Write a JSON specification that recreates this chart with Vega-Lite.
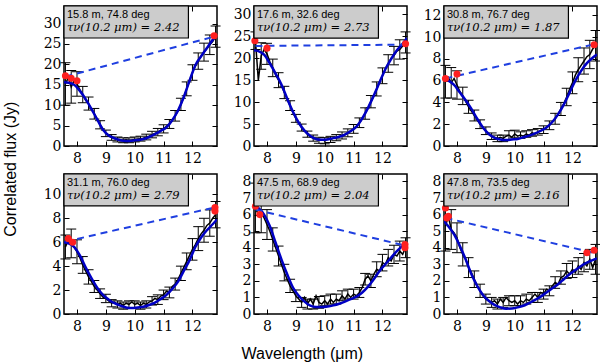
{
"$schema":"https://vega.github.io/schema/vega-lite/v6.json",
"padding":{"left":3,"top":4,"right":4,"bottom":0},
"title":{"text":"Wavelength (μm)","orient":"bottom","anchor":"middle","offset":12},
"vconcat":[{
"title":{"text":"Correlated flux (Jy)","orient":"left","anchor":"middle","offset":23},
"columns":3,
"spacing":{"row":28,"column":37},
"bounds":"flush",
"concat":[
{"width":153,"height":140,"layer":[
 {"encoding":{"x":{"field":"w","type":"quantitative","scale":{"domain":[7.55,12.85],"nice":false,"zero":false},"axis":{"values":[8,9,10,11,12],"title":null}},
  "y":{"field":"f","type":"quantitative","scale":{"domain":[0,34.3],"nice":false,"zero":false},"axis":{"values":[0,5,10,15,20,25,30],"title":null}}},
  "layer":[
   {"data":{"name":"obs"},"transform":[{"filter":"datum.p==1 && datum.e>0"}],"mark":{"type":"errorbar","ticks":{"color":"black","opacity":1},"rule":{"color":"black","opacity":1},"size":10,"thickness":1,"color":"black","opacity":1},"encoding":{"yError":{"field":"e"}}},
   {"data":{"name":"obs"},"transform":[{"filter":"datum.p==1"}],"mark":{"type":"line","color":"black","strokeWidth":1.5,"clip":true},"encoding":{}},
   {"data":{"name":"mod"},"transform":[{"filter":"datum.p==1"}],"mark":{"type":"line","color":"#0000c4","strokeWidth":2.5,"interpolate":"monotone","clip":true},"encoding":{}},
   {"data":{"name":"cont"},"transform":[{"filter":"datum.p==1"}],"mark":{"type":"line","color":"#1f3fe0","strokeWidth":2,"strokeDash":[7,5],"clip":true},"encoding":{}},
   {"data":{"name":"red"},"transform":[{"filter":"datum.p==1"}],"mark":{"type":"circle","color":"#ff2020","size":50,"opacity":1}}
  ]},
 {"data":{"name":"lab"},"transform":[{"filter":"datum.p==1"}],
  "encoding":{"x":{"datum":7.55,"type":"quantitative","scale":{"domain":[7.55,12.85],"nice":false,"zero":false},"axis":{"orient":"top","values":[8,9,10,11,12],"labels":false,"title":null}},
   "y":{"datum":34.3,"type":"quantitative","scale":{"domain":[0,34.3],"nice":false,"zero":false},"axis":{"orient":"right","values":[0,5,10,15,20,25,30],"labels":false,"title":null}}},
  "layer":[
   {"mark":{"type":"rect","fill":"#cccccc","stroke":"black","strokeWidth":1.2},"encoding":{"x2":{"datum":11.86},"y2":{"datum":26.46}}},
   {"mark":{"type":"text","align":"left","baseline":"top","dx":3,"dy":3,"font":"Liberation Sans","fontSize":11},"encoding":{"text":{"field":"a"}}},
   {"mark":{"type":"text","align":"left","baseline":"top","dx":3,"dy":16,"font":"DejaVu Serif","fontStyle":"italic","fontSize":11.5},"encoding":{"text":{"field":"b"}}}
  ]}
 ],"resolve":{"axis":{"x":"independent","y":"independent"}}},
{"width":153,"height":140,"layer":[
 {"encoding":{"x":{"field":"w","type":"quantitative","scale":{"domain":[7.55,12.85],"nice":false,"zero":false},"axis":{"values":[8,9,10,11,12],"title":null}},
  "y":{"field":"f","type":"quantitative","scale":{"domain":[0,31.9],"nice":false,"zero":false},"axis":{"values":[0,5,10,15,20,25,30],"title":null}}},
  "layer":[
   {"data":{"name":"obs"},"transform":[{"filter":"datum.p==2 && datum.e>0"}],"mark":{"type":"errorbar","ticks":{"color":"black","opacity":1},"rule":{"color":"black","opacity":1},"size":10,"thickness":1,"color":"black","opacity":1},"encoding":{"yError":{"field":"e"}}},
   {"data":{"name":"obs"},"transform":[{"filter":"datum.p==2"}],"mark":{"type":"line","color":"black","strokeWidth":1.5,"clip":true},"encoding":{}},
   {"data":{"name":"mod"},"transform":[{"filter":"datum.p==2"}],"mark":{"type":"line","color":"#0000c4","strokeWidth":2.5,"interpolate":"monotone","clip":true},"encoding":{}},
   {"data":{"name":"cont"},"transform":[{"filter":"datum.p==2"}],"mark":{"type":"line","color":"#1f3fe0","strokeWidth":2,"strokeDash":[7,5],"clip":true},"encoding":{}},
   {"data":{"name":"red"},"transform":[{"filter":"datum.p==2"}],"mark":{"type":"circle","color":"#ff2020","size":50,"opacity":1}}
  ]},
 {"data":{"name":"lab"},"transform":[{"filter":"datum.p==2"}],
  "encoding":{"x":{"datum":7.55,"type":"quantitative","scale":{"domain":[7.55,12.85],"nice":false,"zero":false},"axis":{"orient":"top","values":[8,9,10,11,12],"labels":false,"title":null}},
   "y":{"datum":31.9,"type":"quantitative","scale":{"domain":[0,31.9],"nice":false,"zero":false},"axis":{"orient":"right","values":[0,5,10,15,20,25,30],"labels":false,"title":null}}},
  "layer":[
   {"mark":{"type":"rect","fill":"#cccccc","stroke":"black","strokeWidth":1.2},"encoding":{"x2":{"datum":11.86},"y2":{"datum":24.6}}},
   {"mark":{"type":"text","align":"left","baseline":"top","dx":3,"dy":3,"font":"Liberation Sans","fontSize":11},"encoding":{"text":{"field":"a"}}},
   {"mark":{"type":"text","align":"left","baseline":"top","dx":3,"dy":16,"font":"DejaVu Serif","fontStyle":"italic","fontSize":11.5},"encoding":{"text":{"field":"b"}}}
  ]}
 ],"resolve":{"axis":{"x":"independent","y":"independent"}}},
{"width":153,"height":140,"layer":[
 {"encoding":{"x":{"field":"w","type":"quantitative","scale":{"domain":[7.55,12.85],"nice":false,"zero":false},"axis":{"values":[8,9,10,11,12],"title":null}},
  "y":{"field":"f","type":"quantitative","scale":{"domain":[0,12.85],"nice":false,"zero":false},"axis":{"values":[0,2,4,6,8,10,12],"title":null}}},
  "layer":[
   {"data":{"name":"obs"},"transform":[{"filter":"datum.p==3 && datum.e>0"}],"mark":{"type":"errorbar","ticks":{"color":"black","opacity":1},"rule":{"color":"black","opacity":1},"size":10,"thickness":1,"color":"black","opacity":1},"encoding":{"yError":{"field":"e"}}},
   {"data":{"name":"obs"},"transform":[{"filter":"datum.p==3"}],"mark":{"type":"line","color":"black","strokeWidth":1.5,"clip":true},"encoding":{}},
   {"data":{"name":"mod"},"transform":[{"filter":"datum.p==3"}],"mark":{"type":"line","color":"#0000c4","strokeWidth":2.5,"interpolate":"monotone","clip":true},"encoding":{}},
   {"data":{"name":"cont"},"transform":[{"filter":"datum.p==3"}],"mark":{"type":"line","color":"#1f3fe0","strokeWidth":2,"strokeDash":[7,5],"clip":true},"encoding":{}},
   {"data":{"name":"red"},"transform":[{"filter":"datum.p==3"}],"mark":{"type":"circle","color":"#ff2020","size":50,"opacity":1}}
  ]},
 {"data":{"name":"lab"},"transform":[{"filter":"datum.p==3"}],
  "encoding":{"x":{"datum":7.55,"type":"quantitative","scale":{"domain":[7.55,12.85],"nice":false,"zero":false},"axis":{"orient":"top","values":[8,9,10,11,12],"labels":false,"title":null}},
   "y":{"datum":12.85,"type":"quantitative","scale":{"domain":[0,12.85],"nice":false,"zero":false},"axis":{"orient":"right","values":[0,2,4,6,8,10,12],"labels":false,"title":null}}},
  "layer":[
   {"mark":{"type":"rect","fill":"#cccccc","stroke":"black","strokeWidth":1.2},"encoding":{"x2":{"datum":11.86},"y2":{"datum":9.91}}},
   {"mark":{"type":"text","align":"left","baseline":"top","dx":3,"dy":3,"font":"Liberation Sans","fontSize":11},"encoding":{"text":{"field":"a"}}},
   {"mark":{"type":"text","align":"left","baseline":"top","dx":3,"dy":16,"font":"DejaVu Serif","fontStyle":"italic","fontSize":11.5},"encoding":{"text":{"field":"b"}}}
  ]}
 ],"resolve":{"axis":{"x":"independent","y":"independent"}}},
{"width":153,"height":140,"layer":[
 {"encoding":{"x":{"field":"w","type":"quantitative","scale":{"domain":[7.55,12.85],"nice":false,"zero":false},"axis":{"values":[8,9,10,11,12],"title":null}},
  "y":{"field":"f","type":"quantitative","scale":{"domain":[0,11.7],"nice":false,"zero":false},"axis":{"values":[0,2,4,6,8,10],"title":null}}},
  "layer":[
   {"data":{"name":"obs"},"transform":[{"filter":"datum.p==4 && datum.e>0"}],"mark":{"type":"errorbar","ticks":{"color":"black","opacity":1},"rule":{"color":"black","opacity":1},"size":10,"thickness":1,"color":"black","opacity":1},"encoding":{"yError":{"field":"e"}}},
   {"data":{"name":"obs"},"transform":[{"filter":"datum.p==4"}],"mark":{"type":"line","color":"black","strokeWidth":1.5,"clip":true},"encoding":{}},
   {"data":{"name":"mod"},"transform":[{"filter":"datum.p==4"}],"mark":{"type":"line","color":"#0000c4","strokeWidth":2.5,"interpolate":"monotone","clip":true},"encoding":{}},
   {"data":{"name":"cont"},"transform":[{"filter":"datum.p==4"}],"mark":{"type":"line","color":"#1f3fe0","strokeWidth":2,"strokeDash":[7,5],"clip":true},"encoding":{}},
   {"data":{"name":"red"},"transform":[{"filter":"datum.p==4"}],"mark":{"type":"circle","color":"#ff2020","size":50,"opacity":1}}
  ]},
 {"data":{"name":"lab"},"transform":[{"filter":"datum.p==4"}],
  "encoding":{"x":{"datum":7.55,"type":"quantitative","scale":{"domain":[7.55,12.85],"nice":false,"zero":false},"axis":{"orient":"top","values":[8,9,10,11,12],"labels":false,"title":null}},
   "y":{"datum":11.7,"type":"quantitative","scale":{"domain":[0,11.7],"nice":false,"zero":false},"axis":{"orient":"right","values":[0,2,4,6,8,10],"labels":false,"title":null}}},
  "layer":[
   {"mark":{"type":"rect","fill":"#cccccc","stroke":"black","strokeWidth":1.2},"encoding":{"x2":{"datum":11.86},"y2":{"datum":9.03}}},
   {"mark":{"type":"text","align":"left","baseline":"top","dx":3,"dy":3,"font":"Liberation Sans","fontSize":11},"encoding":{"text":{"field":"a"}}},
   {"mark":{"type":"text","align":"left","baseline":"top","dx":3,"dy":16,"font":"DejaVu Serif","fontStyle":"italic","fontSize":11.5},"encoding":{"text":{"field":"b"}}}
  ]}
 ],"resolve":{"axis":{"x":"independent","y":"independent"}}},
{"width":153,"height":140,"layer":[
 {"encoding":{"x":{"field":"w","type":"quantitative","scale":{"domain":[7.55,12.85],"nice":false,"zero":false},"axis":{"values":[8,9,10,11,12],"title":null}},
  "y":{"field":"f","type":"quantitative","scale":{"domain":[0,8.45],"nice":false,"zero":false},"axis":{"values":[0,1,2,3,4,5,6,7,8],"title":null}}},
  "layer":[
   {"data":{"name":"obs"},"transform":[{"filter":"datum.p==5 && datum.e>0"}],"mark":{"type":"errorbar","ticks":{"color":"black","opacity":1},"rule":{"color":"black","opacity":1},"size":10,"thickness":1,"color":"black","opacity":1},"encoding":{"yError":{"field":"e"}}},
   {"data":{"name":"obs"},"transform":[{"filter":"datum.p==5"}],"mark":{"type":"line","color":"black","strokeWidth":1.5,"clip":true},"encoding":{}},
   {"data":{"name":"mod"},"transform":[{"filter":"datum.p==5"}],"mark":{"type":"line","color":"#0000c4","strokeWidth":2.5,"interpolate":"monotone","clip":true},"encoding":{}},
   {"data":{"name":"cont"},"transform":[{"filter":"datum.p==5"}],"mark":{"type":"line","color":"#1f3fe0","strokeWidth":2,"strokeDash":[7,5],"clip":true},"encoding":{}},
   {"data":{"name":"red"},"transform":[{"filter":"datum.p==5"}],"mark":{"type":"circle","color":"#ff2020","size":50,"opacity":1}}
  ]},
 {"data":{"name":"lab"},"transform":[{"filter":"datum.p==5"}],
  "encoding":{"x":{"datum":7.55,"type":"quantitative","scale":{"domain":[7.55,12.85],"nice":false,"zero":false},"axis":{"orient":"top","values":[8,9,10,11,12],"labels":false,"title":null}},
   "y":{"datum":8.45,"type":"quantitative","scale":{"domain":[0,8.45],"nice":false,"zero":false},"axis":{"orient":"right","values":[0,1,2,3,4,5,6,7,8],"labels":false,"title":null}}},
  "layer":[
   {"mark":{"type":"rect","fill":"#cccccc","stroke":"black","strokeWidth":1.2},"encoding":{"x2":{"datum":11.86},"y2":{"datum":6.52}}},
   {"mark":{"type":"text","align":"left","baseline":"top","dx":3,"dy":3,"font":"Liberation Sans","fontSize":11},"encoding":{"text":{"field":"a"}}},
   {"mark":{"type":"text","align":"left","baseline":"top","dx":3,"dy":16,"font":"DejaVu Serif","fontStyle":"italic","fontSize":11.5},"encoding":{"text":{"field":"b"}}}
  ]}
 ],"resolve":{"axis":{"x":"independent","y":"independent"}}},
{"width":153,"height":140,"layer":[
 {"encoding":{"x":{"field":"w","type":"quantitative","scale":{"domain":[7.55,12.85],"nice":false,"zero":false},"axis":{"values":[8,9,10,11,12],"title":null}},
  "y":{"field":"f","type":"quantitative","scale":{"domain":[0,8.45],"nice":false,"zero":false},"axis":{"values":[0,1,2,3,4,5,6,7,8],"title":null}}},
  "layer":[
   {"data":{"name":"obs"},"transform":[{"filter":"datum.p==6 && datum.e>0"}],"mark":{"type":"errorbar","ticks":{"color":"black","opacity":1},"rule":{"color":"black","opacity":1},"size":10,"thickness":1,"color":"black","opacity":1},"encoding":{"yError":{"field":"e"}}},
   {"data":{"name":"obs"},"transform":[{"filter":"datum.p==6"}],"mark":{"type":"line","color":"black","strokeWidth":1.5,"clip":true},"encoding":{}},
   {"data":{"name":"mod"},"transform":[{"filter":"datum.p==6"}],"mark":{"type":"line","color":"#0000c4","strokeWidth":2.5,"interpolate":"monotone","clip":true},"encoding":{}},
   {"data":{"name":"cont"},"transform":[{"filter":"datum.p==6"}],"mark":{"type":"line","color":"#1f3fe0","strokeWidth":2,"strokeDash":[7,5],"clip":true},"encoding":{}},
   {"data":{"name":"red"},"transform":[{"filter":"datum.p==6"}],"mark":{"type":"circle","color":"#ff2020","size":50,"opacity":1}}
  ]},
 {"data":{"name":"lab"},"transform":[{"filter":"datum.p==6"}],
  "encoding":{"x":{"datum":7.55,"type":"quantitative","scale":{"domain":[7.55,12.85],"nice":false,"zero":false},"axis":{"orient":"top","values":[8,9,10,11,12],"labels":false,"title":null}},
   "y":{"datum":8.45,"type":"quantitative","scale":{"domain":[0,8.45],"nice":false,"zero":false},"axis":{"orient":"right","values":[0,1,2,3,4,5,6,7,8],"labels":false,"title":null}}},
  "layer":[
   {"mark":{"type":"rect","fill":"#cccccc","stroke":"black","strokeWidth":1.2},"encoding":{"x2":{"datum":11.86},"y2":{"datum":6.52}}},
   {"mark":{"type":"text","align":"left","baseline":"top","dx":3,"dy":3,"font":"Liberation Sans","fontSize":11},"encoding":{"text":{"field":"a"}}},
   {"mark":{"type":"text","align":"left","baseline":"top","dx":3,"dy":16,"font":"DejaVu Serif","fontStyle":"italic","fontSize":11.5},"encoding":{"text":{"field":"b"}}}
  ]}
 ],"resolve":{"axis":{"x":"independent","y":"independent"}}}
]}],
"datasets":{
"lab":[
{"p":1,"a":"15.8 m, 74.8 deg","b":"τν(10.2 μm) = 2.42"},
{"p":2,"a":"17.6 m, 32.6 deg","b":"τν(10.2 μm) = 2.73"},
{"p":3,"a":"30.8 m, 76.7 deg","b":"τν(10.2 μm) = 1.87"},
{"p":4,"a":"31.1 m, 76.0 deg","b":"τν(10.2 μm) = 2.79"},
{"p":5,"a":"47.5 m, 68.9 deg","b":"τν(10.2 μm) = 2.04"},
{"p":6,"a":"47.8 m, 73.5 deg","b":"τν(10.2 μm) = 2.16"}
],
"cont":[
{"p":1,"w":7.6,"f":17.0},{"p":1,"w":12.85,"f":27.0},
{"p":2,"w":7.6,"f":22.8},{"p":2,"w":12.85,"f":23.1},
{"p":3,"w":7.6,"f":6.2},{"p":3,"w":12.85,"f":9.4},
{"p":4,"w":7.6,"f":6.05},{"p":4,"w":12.85,"f":8.95},
{"p":5,"w":7.6,"f":6.3},{"p":5,"w":12.85,"f":4.1},
{"p":6,"w":7.6,"f":5.8},{"p":6,"w":12.85,"f":3.65}
],
"red":[
{"p":1,"w":7.6,"f":17.2},{"p":1,"w":7.8,"f":16.6},{"p":1,"w":8.0,"f":16.0},{"p":1,"w":12.75,"f":27.0},
{"p":2,"w":7.58,"f":24.0},{"p":2,"w":8.0,"f":22.3},{"p":2,"w":12.8,"f":23.3},
{"p":3,"w":7.6,"f":6.2},{"p":3,"w":8.0,"f":6.6},{"p":3,"w":12.75,"f":9.3},
{"p":4,"w":7.7,"f":6.3},{"p":4,"w":7.85,"f":6.0},{"p":4,"w":12.78,"f":8.6},{"p":4,"w":12.78,"f":8.9},
{"p":5,"w":7.6,"f":6.5},{"p":5,"w":7.75,"f":6.0},{"p":5,"w":12.78,"f":4.2},{"p":5,"w":12.78,"f":4.0},
{"p":6,"w":7.6,"f":6.4},{"p":6,"w":7.65,"f":5.8},{"p":6,"w":7.7,"f":5.9},{"p":6,"w":12.5,"f":3.7},{"p":6,"w":12.75,"f":3.85}
],
"mod":[
{"p":1,"w":7.55,"f":15.6},{"p":1,"w":7.7,"f":15.5},{"p":1,"w":7.9,"f":15.0},{"p":1,"w":8.1,"f":13.5},{"p":1,"w":8.3,"f":11.5},{"p":1,"w":8.5,"f":9.1},{"p":1,"w":8.7,"f":6.5},{"p":1,"w":8.9,"f":4.0},{"p":1,"w":9.1,"f":2.6},{"p":1,"w":9.3,"f":1.9},{"p":1,"w":9.5,"f":1.4},{"p":1,"w":9.7,"f":1.25},{"p":1,"w":9.9,"f":1.3},{"p":1,"w":10.1,"f":1.45},{"p":1,"w":10.3,"f":1.7},{"p":1,"w":10.5,"f":2.2},{"p":1,"w":10.7,"f":2.9},{"p":1,"w":10.9,"f":3.7},{"p":1,"w":11.1,"f":4.6},{"p":1,"w":11.3,"f":6.3},{"p":1,"w":11.5,"f":8.7},{"p":1,"w":11.7,"f":12.0},{"p":1,"w":11.9,"f":16.0},{"p":1,"w":12.1,"f":19.8},{"p":1,"w":12.3,"f":22.0},{"p":1,"w":12.5,"f":24.0},{"p":1,"w":12.7,"f":26.0},{"p":1,"w":12.85,"f":27.2},
{"p":2,"w":7.55,"f":21.8},{"p":2,"w":7.7,"f":21.6},{"p":2,"w":7.9,"f":20.8},{"p":2,"w":8.1,"f":18.8},{"p":2,"w":8.3,"f":16.5},{"p":2,"w":8.5,"f":14.0},{"p":2,"w":8.7,"f":10.8},{"p":2,"w":8.9,"f":7.8},{"p":2,"w":9.1,"f":5.3},{"p":2,"w":9.3,"f":3.5},{"p":2,"w":9.5,"f":2.3},{"p":2,"w":9.7,"f":1.6},{"p":2,"w":9.9,"f":1.4},{"p":2,"w":10.1,"f":1.5},{"p":2,"w":10.3,"f":1.8},{"p":2,"w":10.5,"f":2.1},{"p":2,"w":10.7,"f":2.6},{"p":2,"w":10.9,"f":3.4},{"p":2,"w":11.1,"f":4.4},{"p":2,"w":11.3,"f":6.3},{"p":2,"w":11.5,"f":8.7},{"p":2,"w":11.7,"f":11.5},{"p":2,"w":11.9,"f":14.5},{"p":2,"w":12.1,"f":17.5},{"p":2,"w":12.3,"f":19.8},{"p":2,"w":12.5,"f":21.8},{"p":2,"w":12.7,"f":23.3},{"p":2,"w":12.85,"f":24.6},
{"p":3,"w":7.55,"f":6.1},{"p":3,"w":7.7,"f":6.0},{"p":3,"w":7.9,"f":5.6},{"p":3,"w":8.1,"f":4.9},{"p":3,"w":8.3,"f":4.2},{"p":3,"w":8.5,"f":3.4},{"p":3,"w":8.7,"f":2.5},{"p":3,"w":8.9,"f":1.7},{"p":3,"w":9.1,"f":1.1},{"p":3,"w":9.3,"f":0.75},{"p":3,"w":9.5,"f":0.6},{"p":3,"w":9.7,"f":0.55},{"p":3,"w":9.9,"f":0.6},{"p":3,"w":10.1,"f":0.65},{"p":3,"w":10.3,"f":0.8},{"p":3,"w":10.5,"f":0.95},{"p":3,"w":10.7,"f":1.15},{"p":3,"w":10.9,"f":1.4},{"p":3,"w":11.1,"f":1.7},{"p":3,"w":11.3,"f":2.2},{"p":3,"w":11.5,"f":2.9},{"p":3,"w":11.7,"f":3.8},{"p":3,"w":11.9,"f":4.9},{"p":3,"w":12.1,"f":6.0},{"p":3,"w":12.3,"f":6.9},{"p":3,"w":12.5,"f":7.6},{"p":3,"w":12.7,"f":8.1},{"p":3,"w":12.85,"f":8.4},
{"p":4,"w":7.55,"f":6.0},{"p":4,"w":7.7,"f":5.9},{"p":4,"w":7.9,"f":5.6},{"p":4,"w":8.1,"f":4.9},{"p":4,"w":8.3,"f":3.9},{"p":4,"w":8.5,"f":3.0},{"p":4,"w":8.7,"f":2.2},{"p":4,"w":8.9,"f":1.6},{"p":4,"w":9.1,"f":1.2},{"p":4,"w":9.3,"f":0.9},{"p":4,"w":9.5,"f":0.7},{"p":4,"w":9.7,"f":0.55},{"p":4,"w":9.9,"f":0.5},{"p":4,"w":10.1,"f":0.55},{"p":4,"w":10.3,"f":0.6},{"p":4,"w":10.5,"f":0.75},{"p":4,"w":10.7,"f":0.95},{"p":4,"w":10.9,"f":1.25},{"p":4,"w":11.1,"f":1.6},{"p":4,"w":11.3,"f":2.1},{"p":4,"w":11.5,"f":2.7},{"p":4,"w":11.7,"f":3.6},{"p":4,"w":11.9,"f":4.5},{"p":4,"w":12.1,"f":5.6},{"p":4,"w":12.3,"f":6.4},{"p":4,"w":12.5,"f":7.0},{"p":4,"w":12.7,"f":7.5},{"p":4,"w":12.85,"f":7.9},
{"p":5,"w":7.55,"f":6.6},{"p":5,"w":7.7,"f":6.4},{"p":5,"w":7.9,"f":6.0},{"p":5,"w":8.1,"f":5.3},{"p":5,"w":8.3,"f":4.3},{"p":5,"w":8.5,"f":3.3},{"p":5,"w":8.7,"f":2.4},{"p":5,"w":8.9,"f":1.6},{"p":5,"w":9.1,"f":1.1},{"p":5,"w":9.3,"f":0.75},{"p":5,"w":9.5,"f":0.5},{"p":5,"w":9.7,"f":0.42},{"p":5,"w":9.9,"f":0.42},{"p":5,"w":10.1,"f":0.45},{"p":5,"w":10.3,"f":0.52},{"p":5,"w":10.5,"f":0.62},{"p":5,"w":10.7,"f":0.75},{"p":5,"w":10.9,"f":0.9},{"p":5,"w":11.1,"f":1.05},{"p":5,"w":11.3,"f":1.3},{"p":5,"w":11.5,"f":1.65},{"p":5,"w":11.7,"f":2.1},{"p":5,"w":11.9,"f":2.6},{"p":5,"w":12.1,"f":3.0},{"p":5,"w":12.3,"f":3.4},{"p":5,"w":12.5,"f":3.8},{"p":5,"w":12.7,"f":4.1},{"p":5,"w":12.85,"f":4.25},
{"p":6,"w":7.55,"f":5.6},{"p":6,"w":7.7,"f":5.3},{"p":6,"w":7.9,"f":4.8},{"p":6,"w":8.1,"f":4.1},{"p":6,"w":8.3,"f":3.3},{"p":6,"w":8.5,"f":2.4},{"p":6,"w":8.7,"f":1.7},{"p":6,"w":8.9,"f":1.15},{"p":6,"w":9.1,"f":0.8},{"p":6,"w":9.3,"f":0.55},{"p":6,"w":9.5,"f":0.4},{"p":6,"w":9.7,"f":0.32},{"p":6,"w":9.9,"f":0.33},{"p":6,"w":10.1,"f":0.4},{"p":6,"w":10.3,"f":0.5},{"p":6,"w":10.5,"f":0.65},{"p":6,"w":10.7,"f":0.85},{"p":6,"w":10.9,"f":1.05},{"p":6,"w":11.1,"f":1.3},{"p":6,"w":11.3,"f":1.55},{"p":6,"w":11.5,"f":1.8},{"p":6,"w":11.7,"f":2.1},{"p":6,"w":11.9,"f":2.4},{"p":6,"w":12.1,"f":2.65},{"p":6,"w":12.3,"f":2.9},{"p":6,"w":12.5,"f":3.1},{"p":6,"w":12.7,"f":3.25},{"p":6,"w":12.85,"f":3.35}
],
"obs":[
{"p":1,"w":7.6,"f":15.2,"e":5.2},{"p":1,"w":7.7,"f":16.8},{"p":1,"w":7.8,"f":14.5,"e":4.0},{"p":1,"w":7.9,"f":16.0},{"p":1,"w":8.0,"f":15.2,"e":3.0},{"p":1,"w":8.1,"f":13.8},{"p":1,"w":8.2,"f":12.6,"e":2.0},{"p":1,"w":8.3,"f":11.2},{"p":1,"w":8.4,"f":10.4,"e":1.6},{"p":1,"w":8.5,"f":9.0},{"p":1,"w":8.6,"f":7.9,"e":1.3},{"p":1,"w":8.7,"f":6.6},{"p":1,"w":8.8,"f":5.2,"e":1.0},{"p":1,"w":8.9,"f":4.1},{"p":1,"w":9.0,"f":3.1,"e":0.8},{"p":1,"w":9.1,"f":2.5},{"p":1,"w":9.2,"f":2.1,"e":0.7},{"p":1,"w":9.3,"f":1.8},{"p":1,"w":9.4,"f":1.6,"e":0.6},{"p":1,"w":9.5,"f":1.5},{"p":1,"w":9.6,"f":1.4,"e":0.6},{"p":1,"w":9.7,"f":1.5},{"p":1,"w":9.8,"f":1.4,"e":0.6},{"p":1,"w":9.9,"f":1.5},{"p":1,"w":10.0,"f":1.6,"e":0.6},{"p":1,"w":10.1,"f":1.7},{"p":1,"w":10.2,"f":1.8,"e":0.6},{"p":1,"w":10.3,"f":1.9},{"p":1,"w":10.4,"f":2.2,"e":0.7},{"p":1,"w":10.5,"f":2.4},{"p":1,"w":10.6,"f":2.8,"e":0.8},{"p":1,"w":10.7,"f":3.1},{"p":1,"w":10.8,"f":3.4,"e":0.9},{"p":1,"w":10.9,"f":3.8},{"p":1,"w":11.0,"f":4.2,"e":1.0},{"p":1,"w":11.1,"f":4.8},{"p":1,"w":11.2,"f":5.4,"e":1.1},{"p":1,"w":11.3,"f":6.3},{"p":1,"w":11.4,"f":7.4,"e":1.3},{"p":1,"w":11.5,"f":8.6},{"p":1,"w":11.6,"f":10.2,"e":1.5},{"p":1,"w":11.7,"f":12.0},{"p":1,"w":11.8,"f":14.0,"e":1.7},{"p":1,"w":11.9,"f":16.0},{"p":1,"w":12.0,"f":18.0,"e":1.9},{"p":1,"w":12.1,"f":19.6},{"p":1,"w":12.2,"f":20.8,"e":2.0},{"p":1,"w":12.3,"f":22.0},{"p":1,"w":12.4,"f":23.0,"e":2.2},{"p":1,"w":12.5,"f":23.9},{"p":1,"w":12.6,"f":24.8,"e":2.4},{"p":1,"w":12.7,"f":25.6},{"p":1,"w":12.8,"f":26.8,"e":2.6},
{"p":2,"w":7.6,"f":24.0,"e":2.0},{"p":2,"w":7.7,"f":15.0},{"p":2,"w":7.8,"f":20.5,"e":3.0},{"p":2,"w":7.9,"f":22.0},{"p":2,"w":8.0,"f":21.0,"e":2.4},{"p":2,"w":8.1,"f":19.2},{"p":2,"w":8.2,"f":17.8,"e":2.0},{"p":2,"w":8.3,"f":16.2},{"p":2,"w":8.4,"f":15.0,"e":1.7},{"p":2,"w":8.5,"f":13.8},{"p":2,"w":8.6,"f":12.2,"e":1.4},{"p":2,"w":8.7,"f":10.6},{"p":2,"w":8.8,"f":9.2,"e":1.1},{"p":2,"w":8.9,"f":7.6},{"p":2,"w":9.0,"f":6.3,"e":0.9},{"p":2,"w":9.1,"f":5.2},{"p":2,"w":9.2,"f":4.2,"e":0.8},{"p":2,"w":9.3,"f":3.4},{"p":2,"w":9.4,"f":2.7,"e":0.7},{"p":2,"w":9.5,"f":2.1},{"p":2,"w":9.6,"f":1.8,"e":0.7},{"p":2,"w":9.7,"f":1.5},{"p":2,"w":9.8,"f":1.3,"e":0.7},{"p":2,"w":9.9,"f":1.4},{"p":2,"w":10.0,"f":1.2,"e":0.7},{"p":2,"w":10.1,"f":1.6},{"p":2,"w":10.2,"f":1.5,"e":0.7},{"p":2,"w":10.3,"f":1.8},{"p":2,"w":10.4,"f":1.9,"e":0.7},{"p":2,"w":10.5,"f":2.1},{"p":2,"w":10.6,"f":2.4,"e":0.8},{"p":2,"w":10.7,"f":2.6},{"p":2,"w":10.8,"f":3.0,"e":0.9},{"p":2,"w":10.9,"f":3.4},{"p":2,"w":11.0,"f":3.9,"e":1.0},{"p":2,"w":11.1,"f":4.5},{"p":2,"w":11.2,"f":5.3,"e":1.1},{"p":2,"w":11.3,"f":6.2},{"p":2,"w":11.4,"f":7.4,"e":1.3},{"p":2,"w":11.5,"f":8.6},{"p":2,"w":11.6,"f":10.1,"e":1.4},{"p":2,"w":11.7,"f":11.4},{"p":2,"w":11.8,"f":13.0,"e":1.6},{"p":2,"w":11.9,"f":14.6},{"p":2,"w":12.0,"f":16.0,"e":1.8},{"p":2,"w":12.1,"f":17.6},{"p":2,"w":12.2,"f":18.8,"e":2.0},{"p":2,"w":12.3,"f":20.0},{"p":2,"w":12.4,"f":20.6,"e":2.1},{"p":2,"w":12.5,"f":21.6},{"p":2,"w":12.6,"f":22.0,"e":2.2},{"p":2,"w":12.7,"f":22.8},{"p":2,"w":12.8,"f":23.6,"e":2.4},
{"p":3,"w":7.6,"f":5.9,"e":1.5},{"p":3,"w":7.7,"f":6.3},{"p":3,"w":7.8,"f":5.8,"e":1.4},{"p":3,"w":7.9,"f":6.2},{"p":3,"w":8.0,"f":5.6,"e":1.3},{"p":3,"w":8.1,"f":5.0},{"p":3,"w":8.2,"f":4.6,"e":0.8},{"p":3,"w":8.3,"f":4.1},{"p":3,"w":8.4,"f":3.6,"e":0.6},{"p":3,"w":8.5,"f":3.2},{"p":3,"w":8.6,"f":2.8,"e":0.5},{"p":3,"w":8.7,"f":2.4},{"p":3,"w":8.8,"f":2.0,"e":0.4},{"p":3,"w":8.9,"f":1.7},{"p":3,"w":9.0,"f":1.4,"e":0.35},{"p":3,"w":9.1,"f":1.1},{"p":3,"w":9.2,"f":0.9,"e":0.3},{"p":3,"w":9.3,"f":0.8},{"p":3,"w":9.4,"f":0.7,"e":0.3},{"p":3,"w":9.5,"f":0.8},{"p":3,"w":9.6,"f":0.7,"e":0.3},{"p":3,"w":9.7,"f":0.9},{"p":3,"w":9.8,"f":1.0,"e":0.4},{"p":3,"w":9.9,"f":0.8},{"p":3,"w":10.0,"f":1.1,"e":0.35},{"p":3,"w":10.1,"f":0.9},{"p":3,"w":10.2,"f":1.0,"e":0.3},{"p":3,"w":10.3,"f":0.9},{"p":3,"w":10.4,"f":1.1,"e":0.3},{"p":3,"w":10.5,"f":1.0},{"p":3,"w":10.6,"f":1.2,"e":0.3},{"p":3,"w":10.7,"f":1.1},{"p":3,"w":10.8,"f":1.3,"e":0.3},{"p":3,"w":10.9,"f":1.4},{"p":3,"w":11.0,"f":1.5,"e":0.35},{"p":3,"w":11.1,"f":1.7},{"p":3,"w":11.2,"f":1.9,"e":0.4},{"p":3,"w":11.3,"f":2.2},{"p":3,"w":11.4,"f":2.5,"e":0.5},{"p":3,"w":11.5,"f":2.9},{"p":3,"w":11.6,"f":3.4,"e":0.6},{"p":3,"w":11.7,"f":3.9},{"p":3,"w":11.8,"f":4.5,"e":0.8},{"p":3,"w":11.9,"f":5.2},{"p":3,"w":12.0,"f":5.8,"e":1.0},{"p":3,"w":12.1,"f":6.5},{"p":3,"w":12.2,"f":7.0,"e":1.1},{"p":3,"w":12.3,"f":7.4},{"p":3,"w":12.4,"f":7.8,"e":1.2},{"p":3,"w":12.5,"f":8.2},{"p":3,"w":12.6,"f":8.4,"e":1.3},{"p":3,"w":12.7,"f":8.9},{"p":3,"w":12.8,"f":9.2,"e":1.4},
{"p":4,"w":7.6,"f":5.6,"e":1.0},{"p":4,"w":7.7,"f":6.2},{"p":4,"w":7.8,"f":5.9,"e":1.2},{"p":4,"w":7.9,"f":5.6},{"p":4,"w":8.0,"f":5.2,"e":1.0},{"p":4,"w":8.1,"f":4.7},{"p":4,"w":8.2,"f":4.1,"e":0.7},{"p":4,"w":8.3,"f":3.6},{"p":4,"w":8.4,"f":3.1,"e":0.6},{"p":4,"w":8.5,"f":2.7},{"p":4,"w":8.6,"f":2.3,"e":0.5},{"p":4,"w":8.7,"f":2.0},{"p":4,"w":8.8,"f":1.7,"e":0.4},{"p":4,"w":8.9,"f":1.4},{"p":4,"w":9.0,"f":1.3,"e":0.35},{"p":4,"w":9.1,"f":1.1},{"p":4,"w":9.2,"f":0.9,"e":0.3},{"p":4,"w":9.3,"f":1.0},{"p":4,"w":9.4,"f":0.8,"e":0.3},{"p":4,"w":9.5,"f":0.9},{"p":4,"w":9.6,"f":0.7,"e":0.3},{"p":4,"w":9.7,"f":0.9},{"p":4,"w":9.8,"f":0.8,"e":0.3},{"p":4,"w":9.9,"f":1.0},{"p":4,"w":10.0,"f":0.8,"e":0.3},{"p":4,"w":10.1,"f":0.9},{"p":4,"w":10.2,"f":0.7,"e":0.3},{"p":4,"w":10.3,"f":0.9},{"p":4,"w":10.4,"f":0.8,"e":0.3},{"p":4,"w":10.5,"f":1.0},{"p":4,"w":10.6,"f":1.1,"e":0.35},{"p":4,"w":10.7,"f":1.3},{"p":4,"w":10.8,"f":1.2,"e":0.4},{"p":4,"w":10.9,"f":1.5},{"p":4,"w":11.0,"f":1.6,"e":0.4},{"p":4,"w":11.1,"f":1.9},{"p":4,"w":11.2,"f":1.8,"e":0.45},{"p":4,"w":11.3,"f":2.3},{"p":4,"w":11.4,"f":2.5,"e":0.5},{"p":4,"w":11.5,"f":2.9},{"p":4,"w":11.6,"f":3.4,"e":0.6},{"p":4,"w":11.7,"f":3.9},{"p":4,"w":11.8,"f":4.4,"e":0.7},{"p":4,"w":11.9,"f":4.9},{"p":4,"w":12.0,"f":5.4,"e":0.9},{"p":4,"w":12.1,"f":5.8},{"p":4,"w":12.2,"f":6.3,"e":1.0},{"p":4,"w":12.3,"f":6.7},{"p":4,"w":12.4,"f":7.0,"e":1.0},{"p":4,"w":12.5,"f":7.4},{"p":4,"w":12.6,"f":7.6,"e":1.1},{"p":4,"w":12.7,"f":8.0},{"p":4,"w":12.8,"f":8.3,"e":1.1},
{"p":5,"w":7.6,"f":6.4,"e":1.5},{"p":5,"w":7.7,"f":6.0},{"p":5,"w":7.8,"f":6.1,"e":1.2},{"p":5,"w":7.9,"f":5.8},{"p":5,"w":8.0,"f":5.4,"e":0.9},{"p":5,"w":8.1,"f":5.0},{"p":5,"w":8.2,"f":4.5,"e":0.7},{"p":5,"w":8.3,"f":4.0},{"p":5,"w":8.4,"f":3.5,"e":0.6},{"p":5,"w":8.5,"f":3.0},{"p":5,"w":8.6,"f":2.5,"e":0.5},{"p":5,"w":8.7,"f":2.1},{"p":5,"w":8.8,"f":1.7,"e":0.4},{"p":5,"w":8.9,"f":1.4},{"p":5,"w":9.0,"f":1.1,"e":0.35},{"p":5,"w":9.1,"f":0.9},{"p":5,"w":9.2,"f":0.7,"e":0.3},{"p":5,"w":9.3,"f":1.0},{"p":5,"w":9.4,"f":0.6,"e":0.3},{"p":5,"w":9.5,"f":0.9},{"p":5,"w":9.6,"f":0.6,"e":0.3},{"p":5,"w":9.7,"f":1.1},{"p":5,"w":9.8,"f":0.7,"e":0.35},{"p":5,"w":9.9,"f":0.6},{"p":5,"w":10.0,"f":0.8,"e":0.3},{"p":5,"w":10.1,"f":0.6},{"p":5,"w":10.2,"f":0.9,"e":0.3},{"p":5,"w":10.3,"f":0.7},{"p":5,"w":10.4,"f":0.9,"e":0.3},{"p":5,"w":10.5,"f":0.8},{"p":5,"w":10.6,"f":1.1,"e":0.3},{"p":5,"w":10.7,"f":0.9},{"p":5,"w":10.8,"f":1.2,"e":0.3},{"p":5,"w":10.9,"f":1.0},{"p":5,"w":11.0,"f":1.2,"e":0.3},{"p":5,"w":11.1,"f":1.1},{"p":5,"w":11.2,"f":1.3,"e":0.3},{"p":5,"w":11.3,"f":1.6},{"p":5,"w":11.4,"f":2.1,"e":0.35},{"p":5,"w":11.5,"f":2.3},{"p":5,"w":11.6,"f":2.0,"e":0.4},{"p":5,"w":11.7,"f":2.4},{"p":5,"w":11.8,"f":2.7,"e":0.45},{"p":5,"w":11.9,"f":2.6},{"p":5,"w":12.0,"f":3.1,"e":0.5},{"p":5,"w":12.1,"f":3.0},{"p":5,"w":12.2,"f":3.4,"e":0.5},{"p":5,"w":12.3,"f":3.2},{"p":5,"w":12.4,"f":3.6,"e":0.55},{"p":5,"w":12.5,"f":3.5},{"p":5,"w":12.6,"f":3.8,"e":0.6},{"p":5,"w":12.7,"f":3.6},{"p":5,"w":12.8,"f":4.0,"e":0.6},
{"p":6,"w":7.6,"f":5.3,"e":1.5},{"p":6,"w":7.7,"f":5.9},{"p":6,"w":7.8,"f":5.1,"e":1.2},{"p":6,"w":7.9,"f":4.9},{"p":6,"w":8.0,"f":4.6,"e":0.9},{"p":6,"w":8.1,"f":4.0},{"p":6,"w":8.2,"f":3.6,"e":0.7},{"p":6,"w":8.3,"f":3.3},{"p":6,"w":8.4,"f":2.8,"e":0.6},{"p":6,"w":8.5,"f":2.5},{"p":6,"w":8.6,"f":2.1,"e":0.5},{"p":6,"w":8.7,"f":1.7},{"p":6,"w":8.8,"f":1.4,"e":0.4},{"p":6,"w":8.9,"f":1.1},{"p":6,"w":9.0,"f":0.9,"e":0.3},{"p":6,"w":9.1,"f":0.8},{"p":6,"w":9.2,"f":0.7,"e":0.3},{"p":6,"w":9.3,"f":0.8},{"p":6,"w":9.4,"f":0.6,"e":0.3},{"p":6,"w":9.5,"f":0.9},{"p":6,"w":9.6,"f":0.7,"e":0.3},{"p":6,"w":9.7,"f":1.0},{"p":6,"w":9.8,"f":0.8,"e":0.3},{"p":6,"w":9.9,"f":0.7},{"p":6,"w":10.0,"f":0.8,"e":0.3},{"p":6,"w":10.1,"f":0.6},{"p":6,"w":10.2,"f":0.8,"e":0.3},{"p":6,"w":10.3,"f":0.7},{"p":6,"w":10.4,"f":0.9,"e":0.3},{"p":6,"w":10.5,"f":0.8},{"p":6,"w":10.6,"f":1.0,"e":0.3},{"p":6,"w":10.7,"f":1.2},{"p":6,"w":10.8,"f":1.0,"e":0.3},{"p":6,"w":10.9,"f":1.3},{"p":6,"w":11.0,"f":1.2,"e":0.3},{"p":6,"w":11.1,"f":1.5},{"p":6,"w":11.2,"f":1.4,"e":0.3},{"p":6,"w":11.3,"f":1.7},{"p":6,"w":11.4,"f":1.9,"e":0.35},{"p":6,"w":11.5,"f":1.8},{"p":6,"w":11.6,"f":2.2,"e":0.4},{"p":6,"w":11.7,"f":2.3},{"p":6,"w":11.8,"f":2.6,"e":0.45},{"p":6,"w":11.9,"f":2.4},{"p":6,"w":12.0,"f":2.7,"e":0.5},{"p":6,"w":12.1,"f":2.5},{"p":6,"w":12.2,"f":2.9,"e":0.5},{"p":6,"w":12.3,"f":2.7},{"p":6,"w":12.4,"f":3.1,"e":0.55},{"p":6,"w":12.5,"f":2.9},{"p":6,"w":12.6,"f":3.3,"e":0.6},{"p":6,"w":12.7,"f":2.8},{"p":6,"w":12.8,"f":3.3,"e":0.9}
]
},
"config":{
 "font":"DejaVu Serif",
 "view":{"stroke":"black","strokeWidth":1.5},
 "axis":{"domain":false,"grid":false,"ticks":true,"tickColor":"black","tickSize":-5,"tickWidth":1,"labelFont":"DejaVu Serif","labelFontSize":14,"labelColor":"black"},
 "axisX":{"labelPadding":10},
 "axisY":{"labelPadding":8},
 "title":{"font":"Liberation Sans","fontSize":16,"fontWeight":"normal","color":"black"}
}
}
